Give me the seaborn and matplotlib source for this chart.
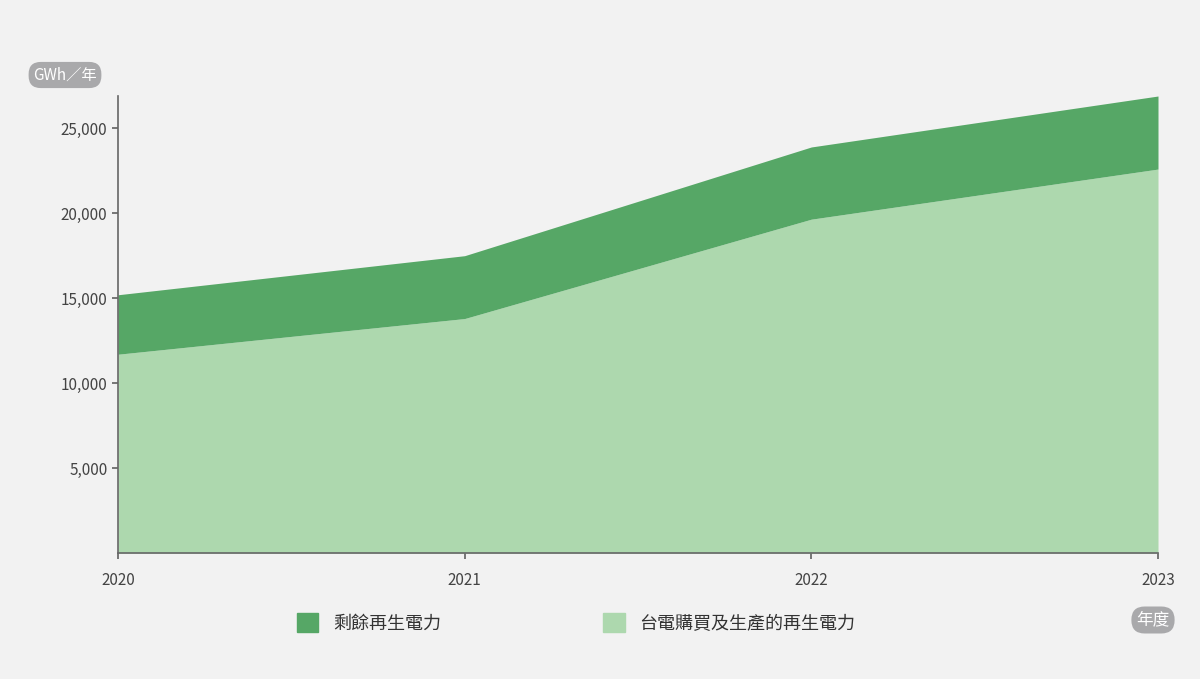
import matplotlib
matplotlib.use("Agg")
import matplotlib.pyplot as plt
import seaborn as sns
from matplotlib.patches import Patch

sns.set_theme(style="white")
plt.rcParams['font.family'] = ['Noto Sans CJK TC', 'DejaVu Sans']

years = [2020, 2021, 2022, 2023]
purchased = [11700, 13800, 19650, 22600]
surplus = [3500, 3700, 4250, 4300]
yticks = [5000, 10000, 15000, 20000, 25000]
labels = ["剩餘再生電力", "台電購買及生產的再生電力"]
c_dark, c_light = "#56a766", "#add8ae"
bg = "#f2f2f2"

fig = plt.figure(figsize=(12, 6.79), dpi=100, facecolor=bg)
ax = fig.add_axes([0.0983, 0.1856, 0.8667, 0.673])
ax.set_facecolor(bg)
ax.stackplot(years, purchased, surplus, colors=[c_light, c_dark], linewidth=0)
ax.set_xlim(2020, 2023)
ax.set_ylim(0, 26900)
ax.set_xticks(years)
ax.set_xticklabels([str(y) for y in years])
ax.set_yticks(yticks)
ax.set_yticklabels([f"{v:,}" for v in yticks])
for s in ["top", "right"]:
    ax.spines[s].set_visible(False)
for s in ["left", "bottom"]:
    ax.spines[s].set_color("#666666")
    ax.spines[s].set_linewidth(1.2)
ax.tick_params(axis="both", colors="#444444", labelsize=11, length=4, direction="out",
               left=True, bottom=True, color="#666666")
ax.tick_params(axis="x", pad=10)

box = dict(boxstyle="round,pad=0.3,rounding_size=0.8", fc="#a9a9ab", ec="none")
fig.text(65/1200, 1-75/679, "GWh／年", color="white", fontsize=11, ha="center", va="center", bbox=box)
fig.text(1153/1200, 1-620/679, "年度", color="white", fontsize=12, ha="center", va="center", bbox=box)

handles = [Patch(color=c_dark), Patch(color=c_light)]
fig.legend(handles, labels, loc="center", bbox_to_anchor=(0.48, 1-623/679), ncol=2, frameon=False,
           fontsize=13, handlelength=1.2, handleheight=1.2, columnspacing=9, labelcolor="#333333")
fig.savefig("out.png", dpi=100, facecolor=bg)
